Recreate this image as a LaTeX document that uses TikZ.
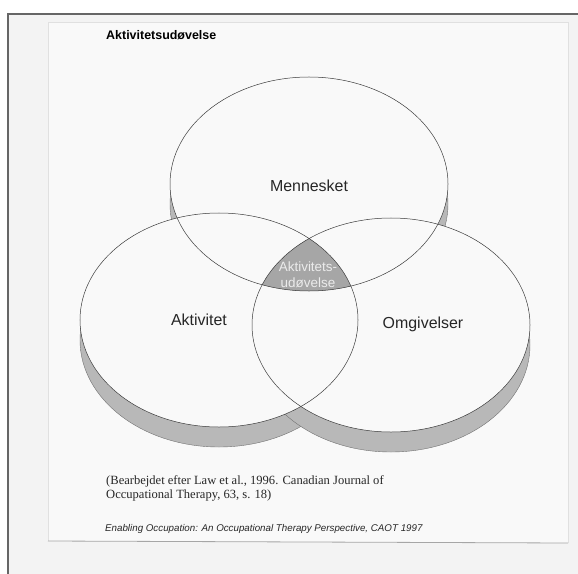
\documentclass[tikz,border=0pt]{standalone}
\usepackage{fontspec}
\setmainfont{Liberation Serif}
\setsansfont{Liberation Sans}
\begin{document}
\begin{tikzpicture}[x=1bp,y=-1bp,
  shadowfill/.style={fill=shade, draw=black!55, line width=0.4bp},
  frontfill/.style={fill=paper},
  outline/.style={draw=edge, line width=0.5bp},
  biglabel/.style={font=\sffamily\fontsize{16}{18}\selectfont, text=black!85},
]
\definecolor{shade}{HTML}{B8B8B8}
\definecolor{core}{HTML}{A6A6A6}
\definecolor{edge}{HTML}{3A3A3A}
\definecolor{paper}{HTML}{F9F9F9}
\definecolor{desk}{HTML}{F3F3F3}
\useasboundingbox (0,0) rectangle (578,574);
\fill[white] (0,0) rectangle (578,574);
% scanner frame
\fill[desk] (8,14) rectangle (578,574);
\draw[line width=2bp, draw=black!60] (8,574) -- (8,14) -- (578,14);
% paper sheet
\fill[paper] (48,22) -- (568,22) -- (568,543) -- (48,541) -- cycle;
\draw[black!12, line width=0.6bp] (48,541) -- (48,22) -- (568,22) -- (568,543);
\draw[black!35, line width=0.8bp] (48,541) -- (568,543);

% ellipse centres
\coordinate (cT) at (309,184);
\coordinate (cL) at (219,320);
\coordinate (cR) at (391,325);
\def\rx{139bp}\def\ry{107bp}

% shadows
\foreach \c in {cT,cL,cR}{
  \path[shadowfill] ([yshift=-20bp]\c) ellipse [x radius=\rx, y radius=\ry];
}
% fronts
\foreach \c in {cT,cL,cR}{
  \path[frontfill] (\c) ellipse [x radius=\rx, y radius=\ry];
}
% triple intersection
\begin{scope}
  \clip (cL) ellipse [x radius=\rx, y radius=\ry];
  \clip (cR) ellipse [x radius=\rx, y radius=\ry];
  \fill[core] (cT) ellipse [x radius=\rx, y radius=\ry];
\end{scope}
% outlines
\foreach \c in {cT,cL,cR}{
  \path[outline] (\c) ellipse [x radius=\rx, y radius=\ry];
}

% labels
\node[font=\sffamily\bfseries\fontsize{12.5}{15}\selectfont, anchor=west, inner sep=0pt] (title) at (106,35) {Aktivitetsudøvelse};
\node[biglabel] (mennesket) at (309,186) {Mennesket};
\node[biglabel] (aktivitet) at (199,320) {Aktivitet};
\node[biglabel] (omgivelser) at (423,324) {Omgivelser};
\node[font=\sffamily\fontsize{13.5}{16}\selectfont, text=white!92!black, align=center] (core) at (308,275) {Aktivitets-\\udøvelse};

\node[font=\fontsize{12.6}{15}\selectfont, anchor=north west, inner sep=0pt, align=left, text=black!85] (cap) at (106,475) {(Bearbejdet efter Law et al., 1996. Canadian Journal of\\Occupational Therapy, 63, s. 18)};
\node[font=\sffamily\itshape\fontsize{9.8}{11}\selectfont, anchor=base west, inner sep=0pt, text=black!85] (src) at (105,531) {Enabling Occupation: An Occupational Therapy Perspective, CAOT 1997};
\end{tikzpicture}
\end{document}
